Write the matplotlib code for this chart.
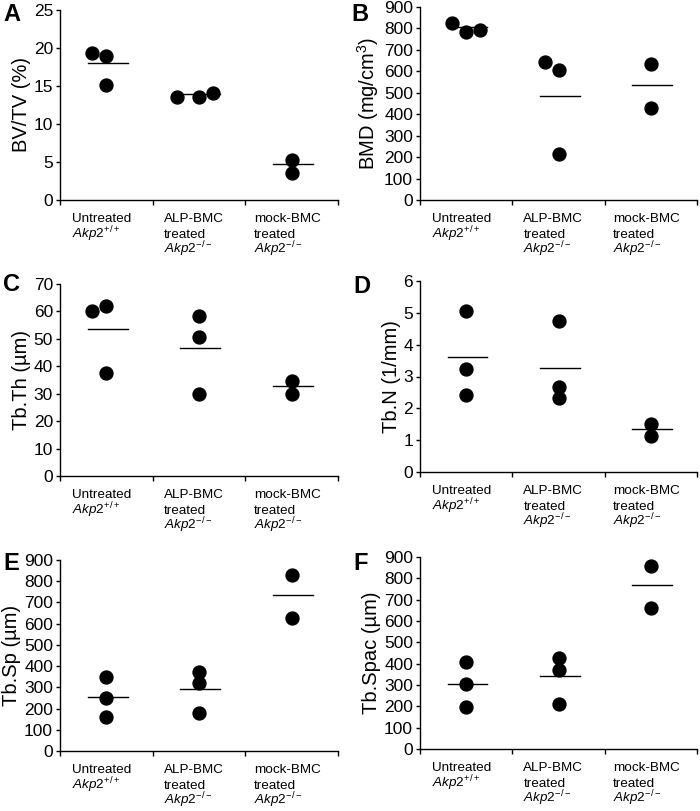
import matplotlib
matplotlib.use('Agg')
import matplotlib.pyplot as plt
from matplotlib.transforms import offset_copy

plt.rcParams['font.family'] = ['Liberation Sans', 'DejaVu Sans']
plt.rcParams['mathtext.fontset'] = 'custom'
plt.rcParams['mathtext.rm'] = 'Liberation Sans'
plt.rcParams['mathtext.it'] = 'Liberation Sans:italic'

# group labels, one list of lines per group
groups = [['Untreated', '$\\mathit{Akp2}^{\\mathit{+/+}}$'],
          ['ALP-BMC', 'treated', '$\\mathit{Akp2}^{\\mathit{-/-}}$'],
          ['mock-BMC', 'treated', '$\\mathit{Akp2}^{\\mathit{-/-}}$']]

# values per panel: [untreated, ALP-BMC, mock-BMC]
bvtv = [[19.4, 19.0, 15.1], [13.5, 13.5, 14.1], [5.2, 3.5]]
bvtv_mean = [18.0, 13.9, 4.7]
bmd = [[825, 783, 794], [642, 604, 215], [634, 431]]
bmd_mean = [807, 486, 534]
tbth = [[60.1, 61.8, 37.7], [58.4, 50.7, 29.9], [34.8, 30.0]]
tbth_mean = [53.5, 46.7, 32.7]
tbn = [[5.07, 3.22, 2.42], [4.73, 2.68, 2.31], [1.50, 1.13]]
tbn_mean = [3.60, 3.27, 1.34]
tbsp = [[347, 248, 159], [371, 322, 181], [831, 625]]
tbsp_mean = [256, 292, 737]
tbspac = [[408, 306, 197], [427, 372, 211], [859, 659]]
tbspac_mean = [303, 342, 769]

# horizontal jitter of the dots (category units)
jit_a = [[-0.15, 0, 0], [-0.24, 0, 0.15], [0, 0]]
jit_b = [[-0.15, 0, 0.15], [-0.15, 0, 0], [0, 0]]
jit_c = [[-0.15, 0, 0], [0, 0, 0], [0, 0]]
jit_0 = [[0, 0, 0], [0, 0, 0], [0, 0]]

panels = [
    ('A', 'BV/TV (%)', bvtv, bvtv_mean, jit_a, 25, 5),
    ('B', 'BMD (mg/cm$^3$)', bmd, bmd_mean, jit_b, 900, 100),
    ('C', 'Tb.Th (µm)', tbth, tbth_mean, jit_c, 70, 10),
    ('D', 'Tb.N (1/mm)', tbn, tbn_mean, jit_0, 6, 1),
    ('E', 'Tb.Sp (µm)', tbsp, tbsp_mean, jit_0, 900, 100),
    ('F', 'Tb.Spac (µm)', tbspac, tbspac_mean, jit_0, 900, 100),
]

W, H = 700, 811
fig = plt.figure(figsize=(W / 100, H / 100), dpi=100)

# axes boxes in pixels: (left, top, right, bottom)
boxes = [(60, 10, 338, 200), (420, 7, 697, 200),
         (60, 284, 338, 476), (420, 281, 697, 472),
         (60, 560, 338, 751), (420, 557, 697, 749)]
letter_pos = [(3, 3), (351, 3), (3, 273), (353, 275), (3, 552), (353, 552)]
label_left = [-0.37, -0.38, -0.41]   # left edge of each label block

for (letter, ylab, vals, means, jit, ymax, step), box, lp in zip(panels, boxes, letter_pos):
    l, t, r, b = box
    ax = fig.add_axes([l / W, 1 - b / H, (r - l) / W, (b - t) / H])
    for i, (v, j) in enumerate(zip(vals, jit)):
        ax.plot([i + d for d in j], v, 'o', color='black', markersize=9.3,
                linestyle='none', clip_on=False)
        ax.plot([i - 0.2, i + 0.23], [means[i], means[i]], color='black', lw=1)
    ax.set_xlim(-0.5, 2.5)
    ax.set_ylim(0, ymax)
    ax.set_yticks(range(0, ymax + 1, step))
    ax.set_xticks([-0.5, 0.5, 1.5, 2.5])
    ax.set_xticklabels([])
    # category labels under the axis, line by line
    for i, lines in enumerate(groups):
        for k, line in enumerate(lines):
            trans = offset_copy(ax.get_xaxis_transform(), fig=fig,
                                y=-16 - 11.3 * k, units='points')
            ax.text(i + label_left[i], 0, line, transform=trans, ha='left',
                    va='baseline', fontsize=9.7)
    ax.tick_params(axis='x', length=3.5, width=1, direction='out')
    ax.tick_params(axis='y', length=3, width=1, direction='out', pad=2, labelsize=12.5)
    for s in ['top', 'right']:
        ax.spines[s].set_visible(False)
    for s in ['left', 'bottom']:
        ax.spines[s].set_linewidth(1)
    ax.set_ylabel(ylab, fontsize=14.5, labelpad=2)
    fig.text(lp[0] / W, 1 - lp[1] / H, letter, fontsize=17, fontweight='bold',
             va='top', ha='left')

fig.savefig('out.png', dpi=100)
